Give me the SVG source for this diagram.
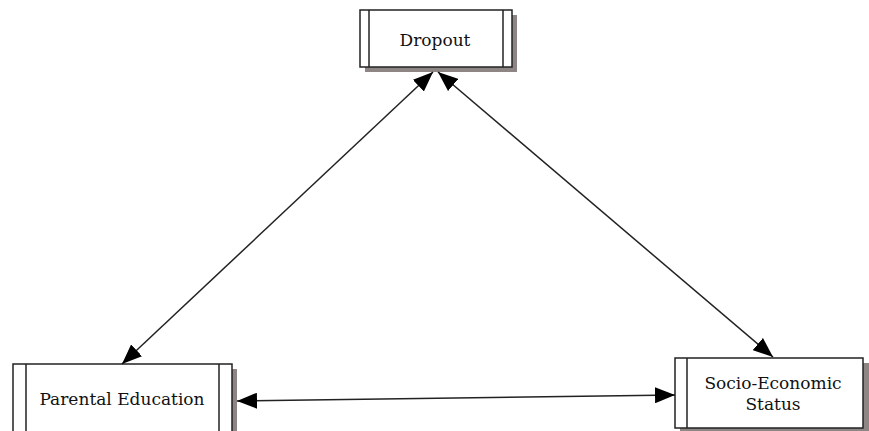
<svg xmlns="http://www.w3.org/2000/svg" width="869" height="431" viewBox="0 0 869 431">
<style>
.shadow{fill:#8e8585;}
.box{fill:#fff;stroke:#222;stroke-width:1.5;}
.bar{stroke:#222;stroke-width:1.5;}
.lbl{font-family:"DejaVu Serif","Liberation Serif",serif;font-size:17px;fill:#111;text-anchor:middle;}
.conn{stroke:#222;stroke-width:1.5;fill:none;marker-start:url(#ah);marker-end:url(#ah);}
</style>
<defs>
<marker id="ah" viewBox="0 0 20 16" refX="20" refY="8" markerWidth="20" markerHeight="16" markerUnits="userSpaceOnUse" orient="auto-start-reverse">
<path d="M0,0 L20,8 L0,16 Z" fill="#000"/>
</marker>
</defs>
<rect width="869" height="431" fill="#fff"/>
<g id="dropout">
<rect class="shadow" x="365" y="15" width="152" height="57"/>
<rect class="box" x="360" y="10" width="152" height="57"/>
<line class="bar" x1="369" y1="10" x2="369" y2="67"/>
<line class="bar" x1="503" y1="10" x2="503" y2="67"/>
<text class="lbl" x="435" y="46">Dropout</text>
</g>
<g id="parental">
<rect class="shadow" x="18" y="369" width="219" height="70"/>
<rect class="box" x="13" y="364" width="219" height="75"/>
<line class="bar" x1="26" y1="364" x2="26" y2="431"/>
<line class="bar" x1="219" y1="364" x2="219" y2="431"/>
<text class="lbl" x="122" y="405">Parental Education</text>
</g>
<g id="ses">
<rect class="shadow" x="680" y="363" width="189" height="68"/>
<rect class="box" x="675" y="358" width="188" height="70"/>
<line class="bar" x1="687" y1="358" x2="687" y2="428"/>
<text class="lbl" x="773" y="389">Socio-Economic</text>
<text class="lbl" x="773" y="410">Status</text>
</g>
<g id="connectors">
<line class="conn" x1="433" y1="72" x2="122" y2="364"/>
<line class="conn" x1="438" y1="72" x2="773" y2="357"/>
<line class="conn" x1="237" y1="401" x2="675" y2="395"/>
</g>
</svg>
